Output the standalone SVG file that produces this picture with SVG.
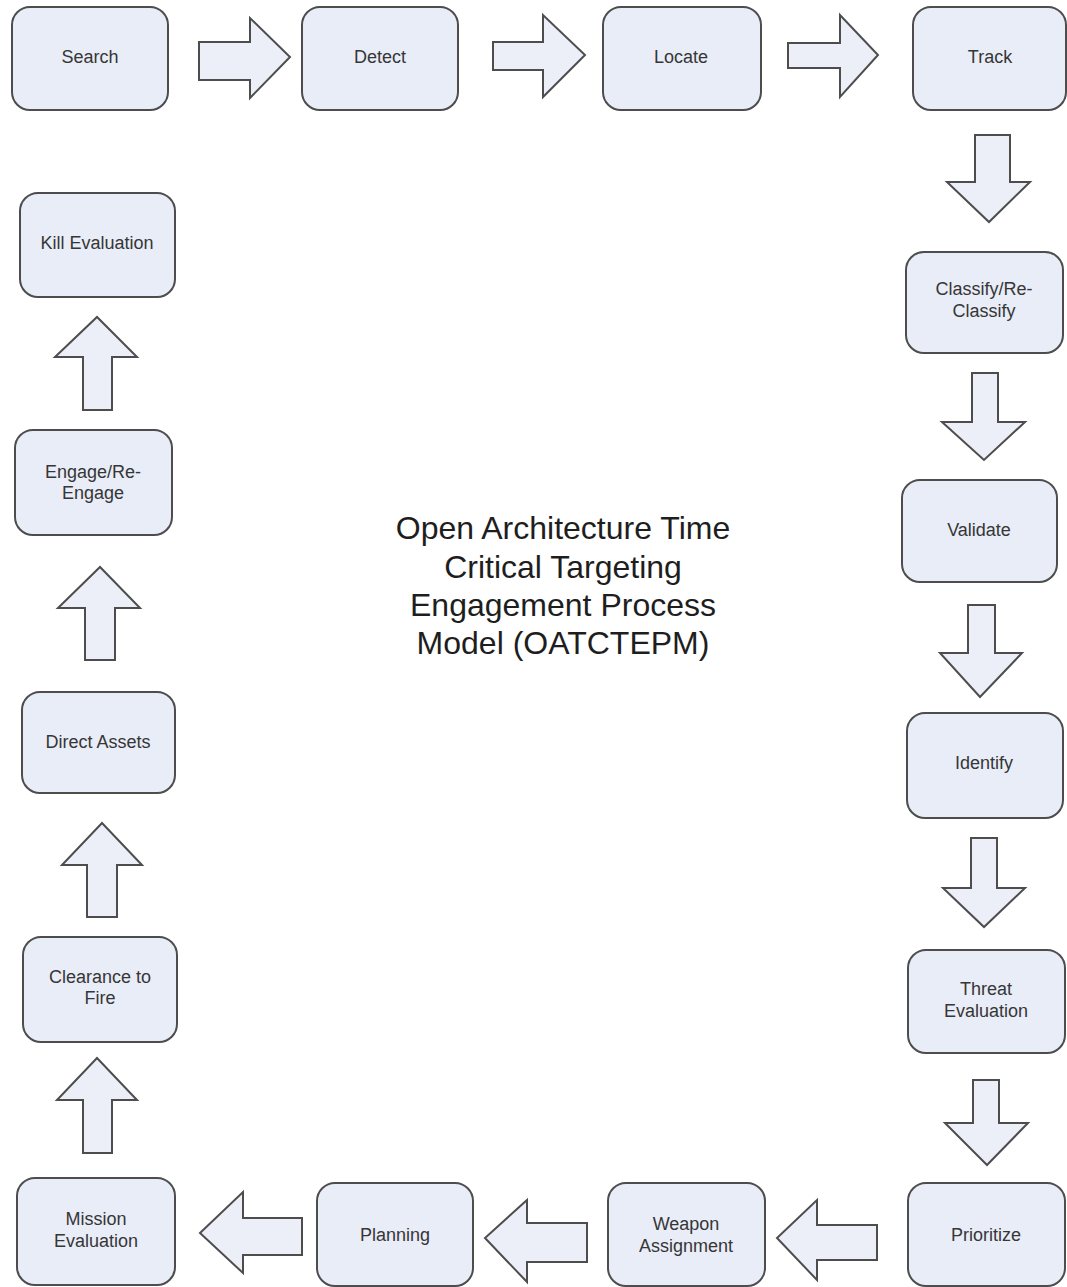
<svg xmlns="http://www.w3.org/2000/svg" width="1067" height="1287" viewBox="0 0 1067 1287">
  <style>
    .box { fill: #e9edf8; stroke: #4d4d4d; stroke-width: 2; }
    .lbl { font-family: "Liberation Sans", Arial, sans-serif; font-size: 18px; fill: #363636; text-anchor: middle; }
    .arr { fill: #eceff8; stroke: #4d4d4d; stroke-width: 2; stroke-linejoin: miter; }
    .title { font-family: "Liberation Sans", Arial, sans-serif; font-size: 32px; fill: #1e1e1e; text-anchor: middle; }
  </style>
  <rect x="0" y="0" width="1067" height="1287" fill="#ffffff"/>

  <!-- flow arrows between stages -->
  <g id="connectors">
    <!-- top row, pointing right -->
    <polygon class="arr" points="199,42 250,42 250,18 290,57 250,98 250,80 199,80"/>
    <polygon class="arr" points="493,42 543,42 543,15 585,55 543,97 543,70 493,70"/>
    <polygon class="arr" points="788,43 840,43 840,15 878,55 840,97 840,68 788,68"/>
    <!-- right column, pointing down -->
    <polygon class="arr" points="975,135 1010,135 1010,182 1030,182 989,222 947,182 975,182"/>
    <polygon class="arr" points="972,373 998,373 998,422 1025,422 984,460 942,422 972,422"/>
    <polygon class="arr" points="968,605 995,605 995,653 1022,653 980,697 940,653 968,653"/>
    <polygon class="arr" points="971,838 997,838 997,888 1025,888 984,927 943,888 971,888"/>
    <polygon class="arr" points="973,1080 999,1080 999,1123 1028,1123 987,1165 945,1123 973,1123"/>
    <!-- bottom row, pointing left -->
    <polygon class="arr" points="877,1225 817,1225 817,1200 777,1238 817,1280 817,1260 877,1260"/>
    <polygon class="arr" points="587,1223 527,1223 527,1200 485,1238 527,1282 527,1262 587,1262"/>
    <polygon class="arr" points="302,1218 243,1218 243,1192 200,1233 243,1273 243,1255 302,1255"/>
    <!-- left column, pointing up -->
    <polygon class="arr" points="83,1153 83,1100 57,1100 97,1058 137,1100 112,1100 112,1153"/>
    <polygon class="arr" points="87,917 87,865 62,865 102,823 142,865 117,865 117,917"/>
    <polygon class="arr" points="85,660 85,608 58,608 100,567 140,608 115,608 115,660"/>
    <polygon class="arr" points="83,410 83,357 55,357 97,317 137,357 112,357 112,410"/>
  </g>

  <!-- stages -->
  <g id="search">
    <rect class="box" x="12" y="7" width="156" height="103" rx="18"/>
    <text class="lbl" x="90" y="63">Search</text>
  </g>
  <g id="detect">
    <rect class="box" x="302" y="7" width="156" height="103" rx="18"/>
    <text class="lbl" x="380" y="63">Detect</text>
  </g>
  <g id="locate">
    <rect class="box" x="603" y="7" width="158" height="103" rx="18"/>
    <text class="lbl" x="681" y="63">Locate</text>
  </g>
  <g id="track">
    <rect class="box" x="913" y="7" width="153" height="103" rx="18"/>
    <text class="lbl" x="990" y="63">Track</text>
  </g>
  <g id="classify">
    <rect class="box" x="906" y="252" width="157" height="101" rx="18"/>
    <text class="lbl" x="984" y="295">Classify/Re-</text>
    <text class="lbl" x="984" y="317">Classify</text>
  </g>
  <g id="validate">
    <rect class="box" x="902" y="480" width="155" height="102" rx="18"/>
    <text class="lbl" x="979" y="536">Validate</text>
  </g>
  <g id="identify">
    <rect class="box" x="907" y="713" width="156" height="105" rx="18"/>
    <text class="lbl" x="984" y="769">Identify</text>
  </g>
  <g id="threat-evaluation">
    <rect class="box" x="908" y="950" width="157" height="103" rx="18"/>
    <text class="lbl" x="986" y="995">Threat</text>
    <text class="lbl" x="986" y="1017">Evaluation</text>
  </g>
  <g id="prioritize">
    <rect class="box" x="908" y="1183" width="157" height="103" rx="18"/>
    <text class="lbl" x="986" y="1241">Prioritize</text>
  </g>
  <g id="weapon-assignment">
    <rect class="box" x="608" y="1183" width="157" height="103" rx="18"/>
    <text class="lbl" x="686" y="1230">Weapon</text>
    <text class="lbl" x="686" y="1252">Assignment</text>
  </g>
  <g id="planning">
    <rect class="box" x="317" y="1183" width="156" height="103" rx="18"/>
    <text class="lbl" x="395" y="1241">Planning</text>
  </g>
  <g id="mission-evaluation">
    <rect class="box" x="17" y="1178" width="158" height="107" rx="18"/>
    <text class="lbl" x="96" y="1225">Mission</text>
    <text class="lbl" x="96" y="1247">Evaluation</text>
  </g>
  <g id="clearance-to-fire">
    <rect class="box" x="23" y="937" width="154" height="105" rx="18"/>
    <text class="lbl" x="100" y="983">Clearance to</text>
    <text class="lbl" x="100" y="1004">Fire</text>
  </g>
  <g id="direct-assets">
    <rect class="box" x="22" y="692" width="153" height="101" rx="18"/>
    <text class="lbl" x="98" y="748">Direct Assets</text>
  </g>
  <g id="engage">
    <rect class="box" x="15" y="430" width="157" height="105" rx="18"/>
    <text class="lbl" x="93" y="478">Engage/Re-</text>
    <text class="lbl" x="93" y="499">Engage</text>
  </g>
  <g id="kill-evaluation">
    <rect class="box" x="20" y="193" width="155" height="104" rx="18"/>
    <text class="lbl" x="97" y="249">Kill Evaluation</text>
  </g>

  <!-- model title -->
  <g id="title">
    <text class="title" x="563" y="539">Open Architecture Time</text>
    <text class="title" x="563" y="578">Critical Targeting</text>
    <text class="title" x="563" y="616">Engagement Process</text>
    <text class="title" x="563" y="654">Model (OATCTEPM)</text>
  </g>
</svg>
